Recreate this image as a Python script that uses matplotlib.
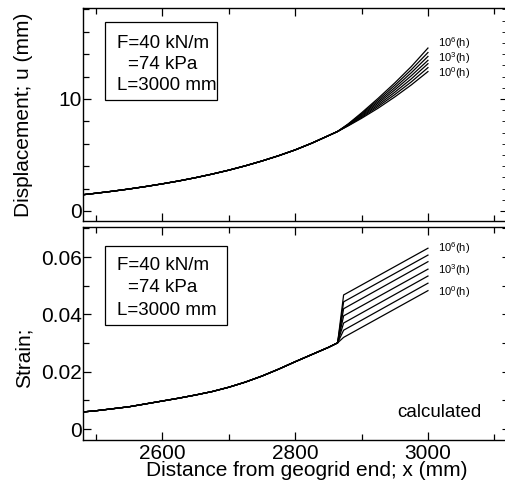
import matplotlib
matplotlib.use("Agg")
import matplotlib.pyplot as plt
from matplotlib.ticker import MultipleLocator
from matplotlib.patches import Rectangle

plt.rcParams['font.family'] = ['Liberation Sans', 'DejaVu Sans']
plt.rcParams['mathtext.fontset'] = 'custom'
plt.rcParams['mathtext.rm'] = 'Liberation Sans'

# ---- data ----
main_x = [2481, 2500, 2525, 2550, 2575, 2600, 2625, 2650, 2675, 2700,
          2725, 2750, 2775, 2800, 2825, 2850, 2864]
main_u = [1.45, 1.58, 1.76, 1.96, 2.18, 2.42, 2.68, 2.97, 3.29, 3.64,
          4.03, 4.46, 4.93, 5.45, 6.05, 6.72, 7.10]
main_eps = [0.0060, 0.0064, 0.0071, 0.0078, 0.0088, 0.0098, 0.0108, 0.0119, 0.0131, 0.0146,
            0.0164, 0.0185, 0.0209, 0.0235, 0.0260, 0.0285, 0.0301]

branch_x_u = [2880, 2900, 2925, 2950, 2975, 3000]
branch_u = [
    [7.60, 8.27, 9.18, 10.18, 11.26, 12.45],   # 10^0 h
    [7.63, 8.35, 9.33, 10.39, 11.53, 12.80],
    [7.66, 8.43, 9.47, 10.60, 11.80, 13.15],
    [7.69, 8.51, 9.62, 10.81, 12.08, 13.45],   # 10^3 h
    [7.72, 8.60, 9.76, 11.01, 12.35, 13.80],
    [7.75, 8.68, 9.91, 11.22, 12.62, 14.15],
    [7.78, 8.76, 10.06, 11.43, 12.90, 14.55],  # 10^6 h
]
branch_x_eps = [2873, 3000]
branch_eps = [
    [0.0320, 0.0483],
    [0.0345, 0.0509],
    [0.0370, 0.0534],
    [0.0395, 0.0558],
    [0.0420, 0.0584],
    [0.0444, 0.0607],
    [0.0468, 0.0631],
]
time_labels = [r'$\mathregular{10^6}$(h)', r'$\mathregular{10^3}$(h)', r'$\mathregular{10^0}$(h)']
box_lines = ['F=40 kN/m', '=74 kPa', 'L=3000 mm']

W, H = 506, 488
fig = plt.figure(figsize=(W / 100, H / 100), dpi=100)

def fx(px):
    return px / W

def fy(py):
    return 1 - py / H

L, R = 83.3, 508.3
ax1 = fig.add_axes([fx(L), fy(221), fx(R) - fx(L), fy(8.3) - fy(221)])
ax2 = fig.add_axes([fx(L), fy(440), fx(R) - fx(L), fy(227.3) - fy(440)])

for i in range(len(branch_u)):
    ax1.plot(main_x + branch_x_u, main_u + branch_u[i], color='black', lw=0.9)
    ax2.plot(main_x + branch_x_eps, main_eps + branch_eps[i], color='black', lw=0.9)

ax1.set_xlim(2481, 3121)
ax2.set_xlim(2481, 3121)
ax1.set_ylim(-0.9, 18.1)
ax2.set_ylim(-0.0038, 0.0704)

for ax in (ax1, ax2):
    ax.xaxis.set_major_locator(MultipleLocator(200))
    ax.xaxis.set_minor_locator(MultipleLocator(100))
    ax.tick_params(which='both', direction='in', top=True, bottom=True, right=False,
                   labelsize=15, pad=2)
    ax.tick_params(which='major', length=6, width=0.9)
    ax.tick_params(which='minor', length=4.5, width=0.9)
    for s in ax.spines.values():
        s.set_linewidth(1.0)

ax1.tick_params(labelbottom=False)
ax1.yaxis.set_minor_locator(MultipleLocator(2))
ax1.set_yticks([0, 10])
ax1.set_yticklabels(['0', '10'])
ax2.yaxis.set_minor_locator(MultipleLocator(0.01))
ax2.set_yticks([0, 0.02, 0.04, 0.06])
ax2.set_yticklabels(['0', '0.02', '0.04', '0.06'])
ax1.tick_params(axis='y', which='major', length=6, pad=1)
ax2.tick_params(axis='y', which='major', length=6, pad=1)
ax2.tick_params(axis='x', pad=3)

# right-hand ticks
sec1 = ax1.secondary_yaxis('right')
sec1.yaxis.set_major_locator(MultipleLocator(10))
sec1.yaxis.set_minor_locator(MultipleLocator(1))
sec1.tick_params(which='both', direction='in', labelright=False)
sec1.tick_params(which='major', length=6)
sec1.tick_params(which='minor', length=4)
sec2 = ax2.secondary_yaxis('right')
sec2.yaxis.set_major_locator(MultipleLocator(0.01))
sec2.yaxis.set_minor_locator(MultipleLocator(0.01))
sec2.tick_params(which='both', direction='in', labelright=False, length=4.5)

# axis labels
fig.text(fx(24), fy(115), 'Displacement; u (mm)', rotation=90, ha='center', va='center', fontsize=15)
fig.text(fx(24), fy(357.5), 'Strain;', rotation=90, ha='center', va='center', fontsize=15)
fig.text(fx(306.7), fy(471), 'Distance from geogrid end; x (mm)', ha='center', va='center', fontsize=15)

# boxes
def draw_box(left, top, right, bottom, baselines):
    fig.patches.append(Rectangle((fx(left), fy(bottom)), fx(right) - fx(left), fy(top) - fy(bottom),
                                 transform=fig.transFigure, fill=False, edgecolor='black', lw=0.9))
    xs = [117.3, 128.0, 117.3]
    for t, xb, yb in zip(box_lines, xs, baselines):
        fig.text(fx(xb), fy(yb), t, ha='left', va='baseline', fontsize=13.5)

draw_box(105, 21.7, 216.7, 100, [47.5, 69, 90.5])
draw_box(105, 246, 226.7, 325, [270, 292.5, 315])

# time labels
for t, yb in zip(time_labels, [46.7, 61.7, 76.7]):
    fig.text(fx(438.3), fy(yb), t, ha='left', va='baseline', fontsize=8)
for t, yb in zip(time_labels, [252.3, 274, 295.7]):
    fig.text(fx(438.3), fy(yb), t, ha='left', va='baseline', fontsize=8)

fig.text(fx(482), fy(417), 'calculated', ha='right', va='baseline', fontsize=13.5)

fig.savefig('out.png', dpi=100)
